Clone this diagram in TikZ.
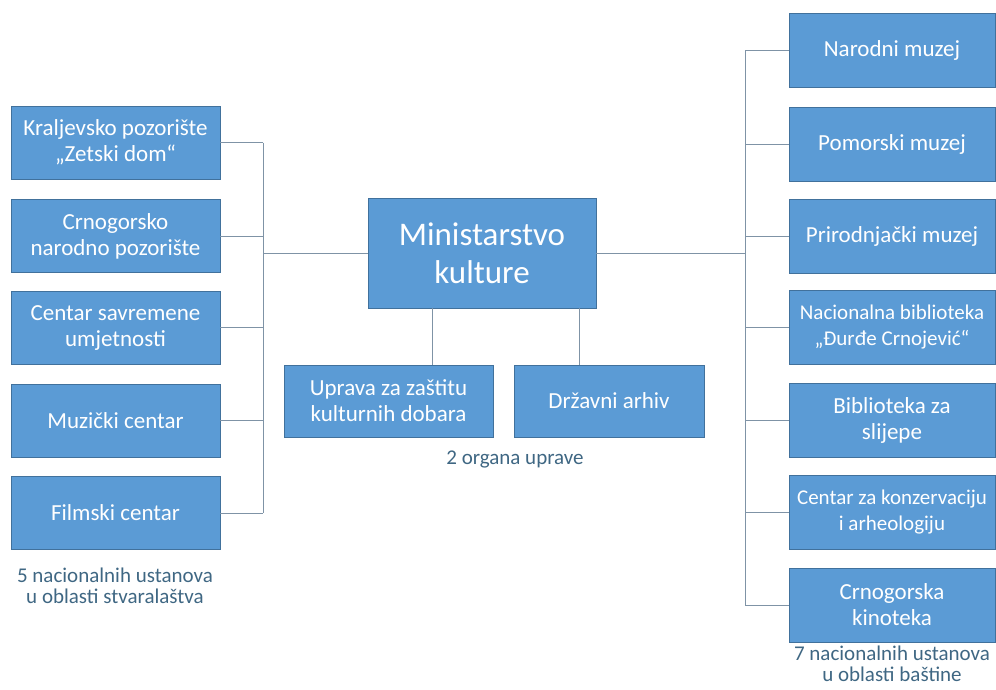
\documentclass[tikz,border=0pt]{standalone}
\usepackage{fontspec}
\setmainfont{Carlito}
\definecolor{boxfill}{HTML}{5B9BD5}
\definecolor{boxline}{HTML}{41719C}
\definecolor{conn}{HTML}{7F93A6}
\definecolor{lbl}{HTML}{3F6783}
\begin{document}
\begin{tikzpicture}[x=1pt,y=-1pt,
  org/.style={draw=boxline, line width=0.8pt, fill=boxfill, text=white, align=center,
    inner sep=0pt, font=\fontsize{23}{26}\selectfont},
  lbox/.style={org, minimum width=209pt, minimum height=73pt},
  rbox/.style={org, minimum width=206pt, minimum height=74pt},
  link/.style={draw=conn, line width=1pt},
  note/.style={text=lbl, align=center, font=\fontsize{21}{21}\selectfont, inner sep=0pt}]
\useasboundingbox (0,0) rectangle (996,689);
% centre
\node[org, minimum width=228pt, minimum height=110pt, font=\fontsize{33}{38}\selectfont] (mk) at (482,253) {Ministarstvo\\kulture};
\node[org, minimum width=209pt, minimum height=72pt] (up) at (388.5,401) {Uprava za zaštitu\\kulturnih dobara};
\node[org, minimum width=190pt, minimum height=72pt] (da) at (609,401) {Državni arhiv};
\node[note] (n2) at (515,459) {2 organa uprave};
% left
\node[lbox] (l1) at (115.5,142.5) {Kraljevsko pozorište\\„Zetski dom“};
\node[lbox] (l2) at (115.5,236) {Crnogorsko\\narodno pozorište};
\node[lbox] (l3) at (115.5,327.5) {Centar savremene\\umjetnosti};
\node[lbox] (l4) at (115.5,420.5) {Muzički centar};
\node[lbox] (l5) at (115.5,513) {Filmski centar};
\node[note] (n5) at (115,586) {5 nacionalnih ustanova\\u oblasti stvaralaštva};
% right
\node[rbox] (r1) at (892,50) {Narodni muzej};
\node[rbox] (r2) at (892,144) {Pomorski muzej};
\node[rbox] (r3) at (892,236) {Prirodnjački muzej};
\node[rbox, font=\fontsize{21}{26}\selectfont] (r4) at (892,327) {Nacionalna biblioteka\\„Đurđe Crnojević“};
\node[rbox] (r5) at (892,420.5) {Biblioteka za\\slijepe};
\node[rbox, font=\fontsize{21}{26}\selectfont] (r6) at (892,512.5) {Centar za konzervaciju\\i arheologiju};
\node[rbox] (r7) at (892,605) {Crnogorska\\kinoteka};
\node[note] (n7) at (892,664) {7 nacionalnih ustanova\\u oblasti baštine};
% trunks
\coordinate (lt) at (263,253);
\coordinate (rt) at (745,253);
\draw[link] (mk.west) -- (lt);
\draw[link] (mk.east) -- (rt);
\draw[link] (lt |- l1.east) -- (lt |- l5.east);
\draw[link] (rt |- r1.west) -- (rt |- r7.west);
\foreach \n in {l1,l2,l3,l4,l5} \draw[link] (\n.east) -- (lt |- \n.east);
\foreach \n in {r1,r2,r3,r4,r5,r6,r7} \draw[link] (\n.west) -- (rt |- \n.west);
\draw[link] ([xshift=-50pt]mk.south) -- ([xshift=-50pt]mk.south |- up.north);
\draw[link] ([xshift=97pt]mk.south) -- ([xshift=97pt]mk.south |- da.north);
\end{tikzpicture}
\end{document}
